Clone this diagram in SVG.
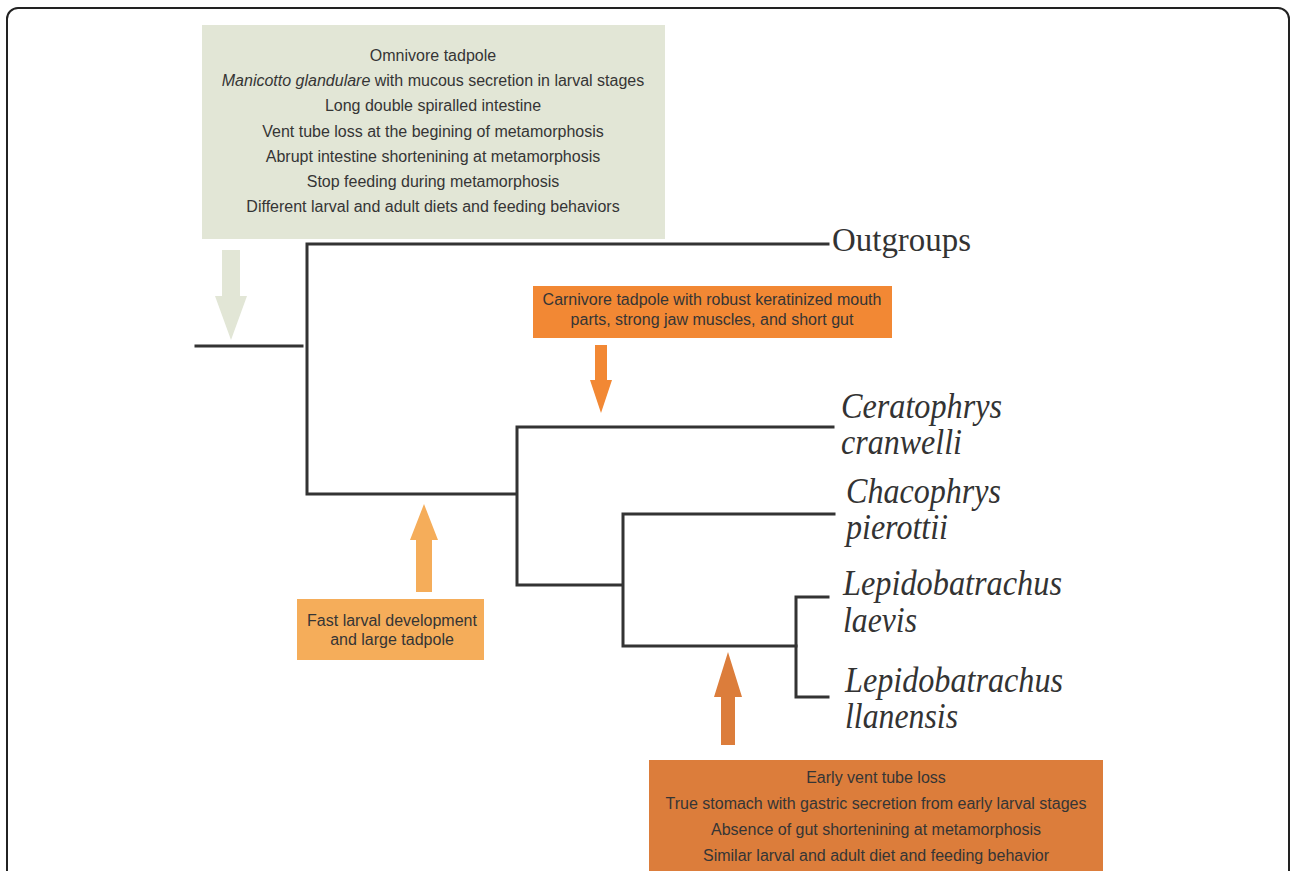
<svg xmlns="http://www.w3.org/2000/svg" width="1292" height="871" viewBox="0 0 1292 871">
<style>
.frame{fill:none;stroke:#222;stroke-width:2}
.br{fill:none;stroke:#333;stroke-width:3;stroke-linecap:square}
.t{font-family:"Liberation Sans",Arial,sans-serif;font-size:16px;fill:#353535;text-anchor:middle}
.tax{font-family:"Liberation Serif","Times New Roman",serif;font-style:italic;font-size:35px;fill:#333}
.og{font-family:"Liberation Serif","Times New Roman",serif;font-size:34px;fill:#333}
</style>
<rect width="1292" height="871" fill="#fff"/>
<rect class="frame" x="7" y="8" width="1282" height="890" rx="11"/>
<g id="connectors">
<path class="br" d="M196 346H302"/>
<path class="br" d="M828 244H307V494H516"/>
<path class="br" d="M833 427H517V585H622"/>
<path class="br" d="M834 514H623V646H796"/>
<path class="br" d="M828 597H796V697H828"/>
<polygon id="arrow-green" fill="#e2e6d6" points="222,250 240,250 240,296 247,296 231,340 215,296 222,296"/>
<polygon id="arrow-carn" fill="#f28834" points="595,345 607,345 607,380 612,380 601,413 590,380 595,380"/>
<polygon id="arrow-fast" fill="#f5ad5a" points="416,592 432,592 432,540 438,540 424,504 410,540 416,540"/>
<polygon id="arrow-lepi" fill="#dc7d3b" points="721,745 735,745 735,697 742,697 728,652 714,697 721,697"/>
</g>
<g id="box-omnivore">
<rect x="202" y="25" width="463" height="214" fill="#e2e6d6"/>
<text class="t" x="433" y="61">Omnivore tadpole</text>
<text class="t" x="433" y="86"><tspan font-style="italic">Manicotto glandulare</tspan> with mucous secretion in larval stages</text>
<text class="t" x="433" y="111">Long double spiralled intestine</text>
<text class="t" x="433" y="137">Vent tube loss at the begining of metamorphosis</text>
<text class="t" x="433" y="162">Abrupt intestine shortenining at metamorphosis</text>
<text class="t" x="433" y="187">Stop feeding during metamorphosis</text>
<text class="t" x="433" y="212">Different larval and adult diets and feeding behaviors</text>
</g>
<g id="box-carnivore">
<rect x="533" y="286" width="359" height="52" fill="#f28834"/>
<text class="t" x="712" y="305">Carnivore tadpole with robust keratinized mouth</text>
<text class="t" x="712" y="325">parts, strong jaw muscles, and short gut</text>
</g>
<g id="box-fast">
<rect x="297" y="599" width="187" height="61" fill="#f5ad5a"/>
<text class="t" x="392" y="626">Fast larval development</text>
<text class="t" x="392" y="645">and large tadpole</text>
</g>
<g id="box-lepido">
<rect x="649" y="760" width="454" height="115" fill="#dc7d3b"/>
<text class="t" x="876" y="783">Early vent tube loss</text>
<text class="t" x="876" y="809">True stomach with gastric secretion from early larval stages</text>
<text class="t" x="876" y="835">Absence of gut shortenining at metamorphosis</text>
<text class="t" x="876" y="861">Similar larval and adult diet and feeding behavior</text>
</g>
<g id="taxon-outgroups"><text class="og" x="832" y="251" textLength="139" lengthAdjust="spacingAndGlyphs">Outgroups</text></g>
<g id="taxon-ceratophrys"><text class="tax" x="841" y="418" textLength="161" lengthAdjust="spacingAndGlyphs">Ceratophrys</text><text class="tax" x="841" y="454" textLength="121" lengthAdjust="spacingAndGlyphs">cranwelli</text></g>
<g id="taxon-chacophrys"><text class="tax" x="846" y="503" textLength="155" lengthAdjust="spacingAndGlyphs">Chacophrys</text><text class="tax" x="846" y="539" textLength="102" lengthAdjust="spacingAndGlyphs">pierottii</text></g>
<g id="taxon-laevis"><text class="tax" x="843" y="595" textLength="219" lengthAdjust="spacingAndGlyphs">Lepidobatrachus</text><text class="tax" x="843" y="632" textLength="74" lengthAdjust="spacingAndGlyphs">laevis</text></g>
<g id="taxon-llanensis"><text class="tax" x="845" y="692" textLength="218" lengthAdjust="spacingAndGlyphs">Lepidobatrachus</text><text class="tax" x="845" y="728" textLength="113" lengthAdjust="spacingAndGlyphs">llanensis</text></g>
</svg>
